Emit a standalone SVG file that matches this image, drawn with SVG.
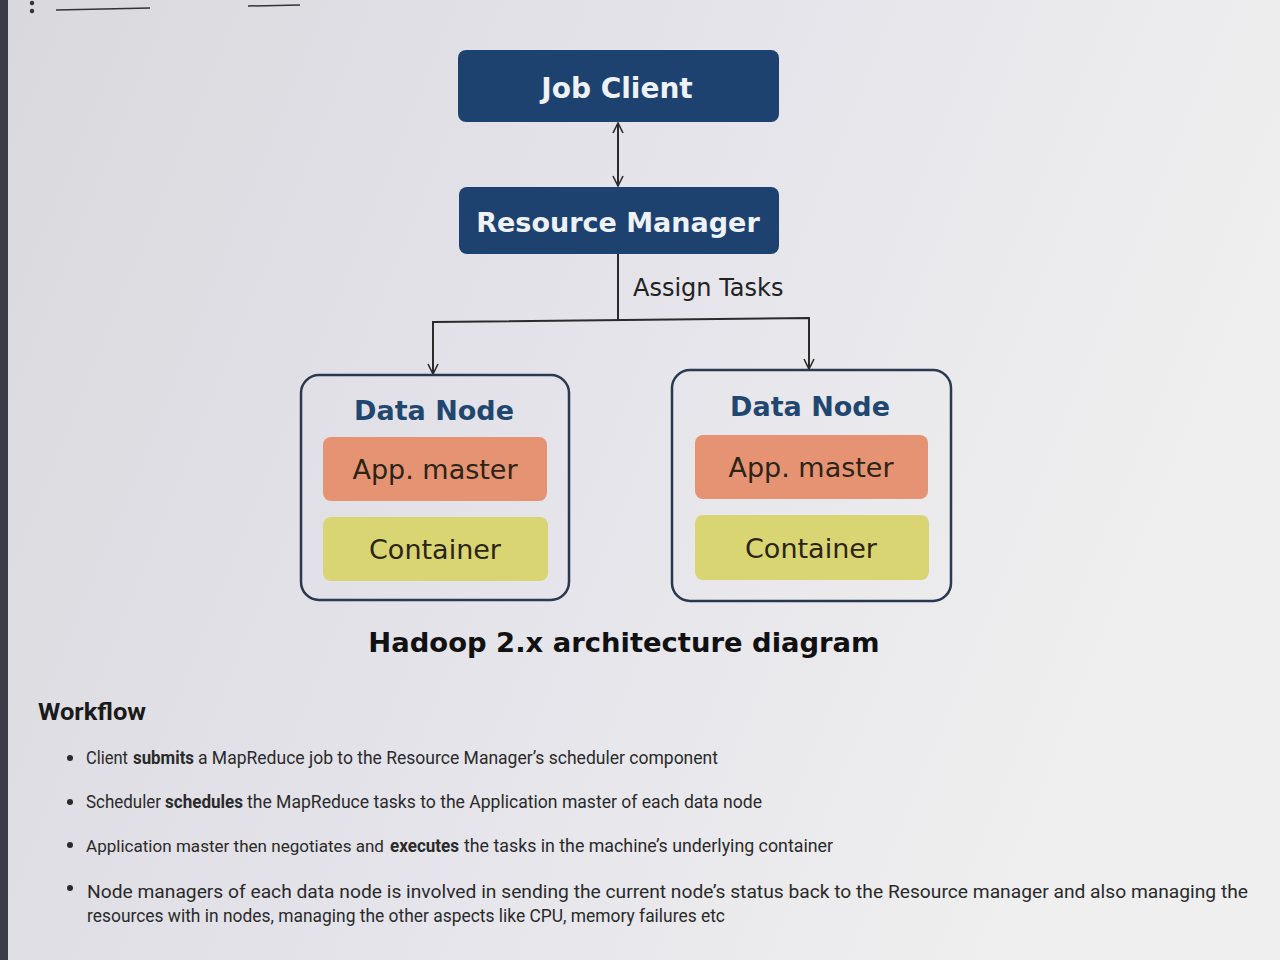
<svg xmlns="http://www.w3.org/2000/svg" width="1280" height="960" viewBox="0 0 1280 960">
<defs>
<linearGradient id="bg" x1="0" y1="0" x2="1" y2="0.3">
<stop offset="0" stop-color="#d9d9dd"/>
<stop offset="0.5" stop-color="#e4e3ea"/>
<stop offset="1" stop-color="#efefef"/>
</linearGradient>
<marker id="ah" viewBox="0 0 12 12" refX="11" refY="6" markerWidth="12" markerHeight="12" markerUnits="userSpaceOnUse" orient="auto-start-reverse">
<path d="M1,1 L11,6 L1,11" fill="none" stroke="#2b2b2b" stroke-width="1.6"/>
</marker>
<style>
.nav{fill:#1d4270;}
.navt{font-family:"DejaVu Sans",Verdana,sans-serif;font-weight:bold;font-size:28px;fill:#eef2f6;text-anchor:middle;}
.dn{fill:none;stroke:#2a3950;stroke-width:2.5;}
.dnt{font-family:"DejaVu Sans",Verdana,sans-serif;font-weight:bold;font-size:27px;fill:#1f4770;text-anchor:middle;}
.am{fill:#e59373;}
.ct{fill:#d9d572;}
.it{font-family:"DejaVu Sans",Verdana,sans-serif;font-size:27px;fill:#2b2417;text-anchor:middle;}
.ln{fill:none;stroke:#2b2b2b;stroke-width:2;}
.bl{font-family:Roboto,"Liberation Sans",sans-serif;font-size:18px;fill:#2a2a2a;}
.b{font-weight:bold;}
</style>
</defs>
<rect width="1280" height="960" fill="url(#bg)"/>
<rect x="0" y="0" width="8" height="960" fill="#3a3d48"/>
<g id="toolbar" fill="#333">
<circle cx="32" cy="3" r="2.2"/>
<circle cx="32" cy="11" r="2.2"/>
<line x1="56" y1="10" x2="150" y2="8" stroke="#333" stroke-width="1.5"/>
<line x1="248" y1="6" x2="300" y2="5" stroke="#333" stroke-width="1.5"/>
</g>

<g id="connectors">
<line class="ln" x1="618" y1="123" x2="618" y2="186" marker-start="url(#ah)" marker-end="url(#ah)"/>
<polyline class="ln" points="618,254 618,321"/>
<polyline class="ln" points="433,322 809,318 809,369" marker-end="url(#ah)"/>
<polyline class="ln" points="434,322 433,322 433,374" marker-end="url(#ah)"/>
<text x="633" y="296" font-family="'DejaVu Sans',Verdana,sans-serif" font-size="24" fill="#222">Assign Tasks</text>
</g>

<g id="job-client">
<rect class="nav" x="458" y="50" width="321" height="72" rx="8"/>
<text class="navt" x="617" y="98">Job Client</text>
</g>

<g id="resource-manager">
<rect class="nav" x="459" y="187" width="320" height="67" rx="8"/>
<text class="navt" x="618" y="232" style="font-size:27px">Resource Manager</text>
</g>

<g id="data-node-1">
<rect class="dn" x="301" y="375" width="268" height="225" rx="18"/>
<text class="dnt" x="434" y="420">Data Node</text>
<g id="app-master-1">
<rect class="am" x="323" y="437" width="224" height="64" rx="8"/>
<text class="it" x="435" y="479">App. master</text>
</g>
<g id="container-1">
<rect class="ct" x="323" y="517" width="225" height="64" rx="8"/>
<text class="it" x="435" y="559">Container</text>
</g>
</g>

<g id="data-node-2">
<rect class="dn" x="672" y="370" width="279" height="231" rx="18"/>
<text class="dnt" x="810" y="416">Data Node</text>
<g id="app-master-2">
<rect class="am" x="695" y="435" width="233" height="64" rx="8"/>
<text class="it" x="811" y="477">App. master</text>
</g>
<g id="container-2">
<rect class="ct" x="695" y="515" width="234" height="65" rx="8"/>
<text class="it" x="811" y="558">Container</text>
</g>
</g>

<text x="624" y="652" font-family="'DejaVu Sans',Verdana,sans-serif" font-weight="bold" font-size="27.4" fill="#111" text-anchor="middle">Hadoop 2.x architecture diagram</text>

<g id="workflow">
<text x="38" y="720" font-family="Roboto,'Liberation Sans',sans-serif" font-weight="bold" font-size="24" fill="#1a1a1a" textLength="108" lengthAdjust="spacingAndGlyphs">Workflow</text>
<circle cx="70" cy="758" r="3" fill="#2a2a2a"/>
<text class="bl" x="86" y="764" textLength="42" lengthAdjust="spacingAndGlyphs">Client</text>
<text class="bl b" x="133" y="764" textLength="61" lengthAdjust="spacingAndGlyphs">submits</text>
<text class="bl" x="198" y="764" textLength="520" lengthAdjust="spacingAndGlyphs">a MapReduce job to the Resource Manager’s scheduler component</text>
<circle cx="70" cy="802" r="3" fill="#2a2a2a"/>
<text class="bl" x="86" y="808" textLength="75" lengthAdjust="spacingAndGlyphs">Scheduler</text>
<text class="bl b" x="165" y="808" textLength="78" lengthAdjust="spacingAndGlyphs">schedules</text>
<text class="bl" x="247" y="808" textLength="515" lengthAdjust="spacingAndGlyphs">the MapReduce tasks to the Application master of each data node</text>
<circle cx="70" cy="845" r="3" fill="#2a2a2a"/>
<text class="bl" x="86" y="852" style="font-size:17px" textLength="298" lengthAdjust="spacingAndGlyphs">Application master then negotiates and</text>
<text class="bl b" x="390" y="852" textLength="69" lengthAdjust="spacingAndGlyphs">executes</text>
<text class="bl" x="464" y="852" textLength="369" lengthAdjust="spacingAndGlyphs">the tasks in the machine’s underlying container</text>
<circle cx="70" cy="888" r="3" fill="#2a2a2a"/>
<text class="bl" x="87" y="898" textLength="1161" lengthAdjust="spacingAndGlyphs">Node managers of each data node is involved in sending the current node’s status back to the Resource manager and also managing the</text>
<text class="bl" x="87" y="922" textLength="638" lengthAdjust="spacingAndGlyphs">resources with in nodes, managing the other aspects like CPU, memory failures etc</text>
</g>
</svg>
